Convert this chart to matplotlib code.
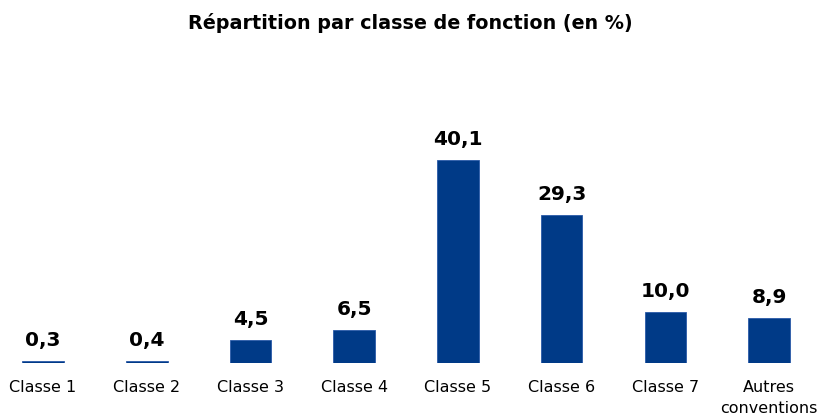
import matplotlib.pyplot as plt

categories = ["Classe 1", "Classe 2", "Classe 3", "Classe 4", "Classe 5",
              "Classe 6", "Classe 7", "Autres\nconventions"]
values = [0.3, 0.4, 4.5, 6.5, 40.1, 29.3, 10.0, 8.9]
value_labels = ["0,3", "0,4", "4,5", "6,5", "40,1", "29,3", "10,0", "8,9"]

bar_color = "#003a87"

fig = plt.figure(figsize=(8.21, 4.16), dpi=100)
ax = fig.add_axes([0, 53 / 416, 1, 303.6 / 416])

x = range(len(categories))
bars = ax.bar(x, values, width=0.4, color=bar_color, edgecolor="#2a5aa8", linewidth=0.6)

for b, lab in zip(bars, value_labels):
    ax.annotate(lab, (b.get_x() + b.get_width() / 2, b.get_height()),
                xytext=(0, 8), textcoords="offset points",
                ha="center", va="bottom", fontsize=14.5, fontweight="bold")

ax.set_xlim(-0.415, 7.5)
ax.set_ylim(0, 60)
ax.set_xticks(list(x))
ax.set_xticklabels(categories, fontsize=11.5, va="top", linespacing=1.45)
ax.tick_params(axis="x", length=0, pad=12.5)
ax.set_yticks([])
for s in ax.spines.values():
    s.set_visible(False)

fig.text(0.5, 1 - 23 / 416, "Répartition par classe de fonction (en %)",
         ha="center", va="center", fontsize=13.8, fontweight="bold")

fig.savefig("out.png", dpi=100)
